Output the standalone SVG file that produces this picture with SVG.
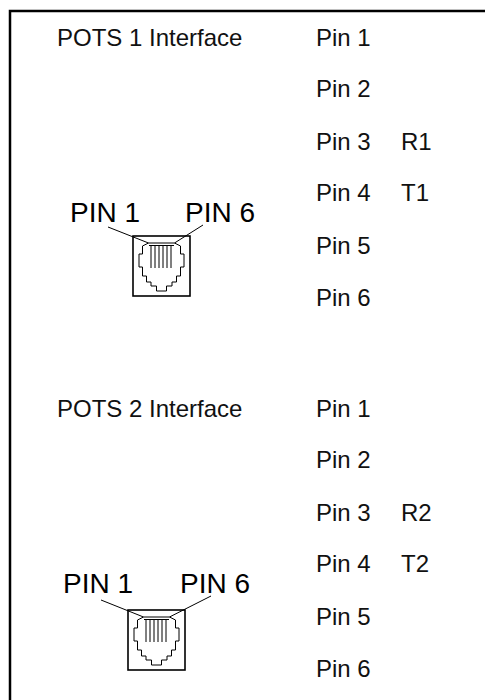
<svg xmlns="http://www.w3.org/2000/svg" width="485" height="700" viewBox="0 0 485 700">
<style>
.t{font-family:"Liberation Sans",Arial,sans-serif;font-size:24px;fill:#111}
.p{font-family:"Liberation Sans",Arial,sans-serif;font-size:28px;fill:#000}
.ln{stroke:#000;stroke-width:1;fill:none}
</style>
<defs>
<g id="jack">
<rect x="0" y="0" width="57" height="60" fill="#fff" stroke="#000" stroke-width="1.6"/>
<path class="ln" d="M15.5,7 H41.5 L47.5,10 V18 H51 V31 H47.5 V40 H43.5 V46 H39 V50 H33.5 V55 H23.5 V50 H18 V46 H13.5 V40 H9.5 V31 H6 V18 H9.5 V10 Z"/>
<path class="ln" d="M16,9.5 H41 M18,9.5 V32 M22,9.5 V32 M26,9.5 V32 M30,9.5 V32 M34,9.5 V32 M38,9.5 V32"/>
</g>
</defs>
<g id="frame">
<path d="M10,700 V11 H485" fill="none" stroke="#000" stroke-width="2.5"/>
</g>
<g id="pots1">
<text class="t" x="57" y="46">POTS 1 Interface</text>
<text class="t" x="316" y="46">Pin 1</text>
<text class="t" x="316" y="97">Pin 2</text>
<text class="t" x="316" y="150">Pin 3</text>
<text class="t" x="401" y="150">R1</text>
<text class="t" x="316" y="201">Pin 4</text>
<text class="t" x="401" y="201">T1</text>
<text class="t" x="316" y="254">Pin 5</text>
<text class="t" x="316" y="306">Pin 6</text>
</g>
<g id="jack1">
<text class="p" x="70" y="222">PIN 1</text>
<text class="p" x="185" y="222">PIN 6</text>
<use href="#jack" x="133" y="236"/>
</g>
<g id="pots2">
<text class="t" x="57" y="417">POTS 2 Interface</text>
<text class="t" x="316" y="417">Pin 1</text>
<text class="t" x="316" y="468">Pin 2</text>
<text class="t" x="316" y="521">Pin 3</text>
<text class="t" x="401" y="521">R2</text>
<text class="t" x="316" y="572">Pin 4</text>
<text class="t" x="401" y="572">T2</text>
<text class="t" x="316" y="625">Pin 5</text>
<text class="t" x="316" y="677">Pin 6</text>
</g>
<g id="jack2">
<text class="p" x="63" y="593">PIN 1</text>
<text class="p" x="180" y="593">PIN 6</text>
<use href="#jack" x="128" y="610"/>
</g>
<g id="connectors">
<path class="ln" d="M108,227 L148.5,243 M203,225 L174.5,243"/>
<path class="ln" d="M101,600 L143.5,617 M211,596 L169.5,617"/>
</g>
</svg>
